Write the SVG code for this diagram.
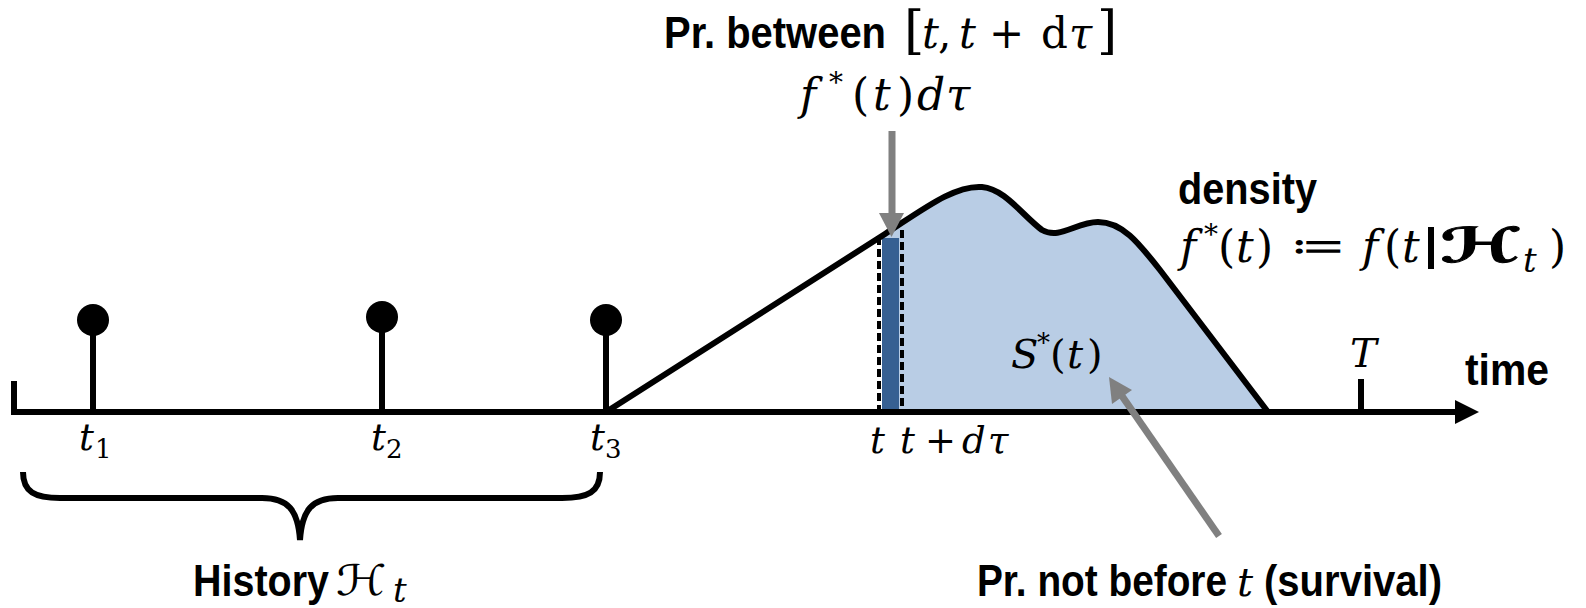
<svg xmlns="http://www.w3.org/2000/svg" width="1586" height="608" viewBox="0 0 1586 608">
<style>
.lbl{font-family:"Liberation Sans Narrow","Liberation Sans",Arial,sans-serif;font-weight:bold;font-size:45px;fill:#000}
.m{font-family:"DejaVu Serif","Liberation Serif",serif;fill:#000}
.i{font-style:italic}
.scr{font-family:"DejaVu Serif","DejaVu Sans",serif;font-style:italic;fill:#000}
.stk{stroke:#000;stroke-width:6;fill:none}
.dash{stroke:#000;stroke-width:4;stroke-dasharray:8 4;fill:none}
.gray{fill:#808080;stroke:none}
</style>
<rect width="1586" height="608" fill="#fff"/>
<g id="density">
  <path d="M882 412 L882 236 L885 234 C925 208 955 185 982 187 C1005 189 1022 215 1042 230 C1060 240 1076 222 1098 222 C1122 222 1138 242 1160 270 L1268 412 Z" fill="#B9CDE5"/>
  <rect x="882" y="238" width="17" height="174" fill="#376092"/>
  <line x1="879" y1="237" x2="879" y2="410" stroke="#fff" stroke-width="4"/>
  <line class="dash" x1="879" y1="237" x2="879" y2="410"/>
  <line class="dash" x1="902" y1="230" x2="902" y2="410"/>
  <path class="stk" d="M606 412 L885 234 C925 208 955 185 982 187 C1005 189 1022 215 1042 230 C1060 240 1076 222 1098 222 C1122 222 1138 242 1160 270 L1268 412" stroke-width="6.5" stroke-linejoin="round"/>
</g>
<g id="axis">
  <line class="stk" x1="12" y1="412" x2="1460" y2="412"/>
  <polygon points="1455,400 1479,412 1455,424" fill="#000"/>
  <line class="stk" x1="14" y1="381" x2="14" y2="415"/>
  <line class="stk" x1="1361" y1="379" x2="1361" y2="412"/>
  <text class="lbl" x="1465" y="385" textLength="84" lengthAdjust="spacingAndGlyphs">time</text>
  <text class="m i" x="1350" y="367" font-size="40">T</text>
</g>
<g id="event-t1">
  <line class="stk" x1="93" y1="320" x2="93" y2="412"/>
  <circle cx="93" cy="320" r="16"/>
  <text class="m" y="450" font-size="37"><tspan class="i" x="79">t</tspan><tspan font-size="26" x="95" y="458">1</tspan></text>
</g>
<g id="event-t2">
  <line class="stk" x1="382" y1="317" x2="382" y2="412"/>
  <circle cx="382" cy="317" r="16"/>
  <text class="m" y="450" font-size="37"><tspan class="i" x="371">t</tspan><tspan font-size="26" x="386" y="458">2</tspan></text>
</g>
<g id="event-t3">
  <line class="stk" x1="606" y1="320" x2="606" y2="412"/>
  <circle cx="606" cy="320" r="16"/>
  <text class="m" y="450" font-size="37"><tspan class="i" x="590">t</tspan><tspan font-size="26" x="605" y="458">3</tspan></text>
</g>
<g id="history">
  <path class="stk" d="M23 472 C23 492 35 498 60 498 L262 498 C288 498 298 510 300 540 C302 510 312 498 338 498 L562 498 C588 498 600 492 600 472"/>
  <text class="lbl" x="193" y="596" textLength="136" lengthAdjust="spacingAndGlyphs">History</text>
  <text class="scr" x="336" y="595" font-size="42" textLength="51" lengthAdjust="spacingAndGlyphs">ℋ</text>
  <text class="m i" x="393" y="602" font-size="34">t</text>
</g>
<g id="title">
  <text class="lbl" x="664" y="48" textLength="222" lengthAdjust="spacingAndGlyphs">Pr. between</text>
  <text class="m" y="48" font-size="42"><tspan x="904" font-size="52">[</tspan><tspan class="i" x="922">t</tspan><tspan x="938">,</tspan><tspan class="i" x="959">t</tspan><tspan x="989">+</tspan><tspan x="1041">d</tspan><tspan class="i" x="1069">τ</tspan><tspan x="1097" font-size="52">]</tspan></text>
  <text class="m" y="110" font-size="44"><tspan class="i" x="800">f</tspan><tspan font-size="28" x="829" y="92">*</tspan><tspan x="852" y="110">(</tspan><tspan class="i" x="873">t</tspan><tspan x="897">)</tspan><tspan class="i" x="917">d</tspan><tspan class="i" x="946">τ</tspan></text>
</g>
<g id="density-label">
  <text class="lbl" x="1178" y="204" textLength="139" lengthAdjust="spacingAndGlyphs">density</text>
  <text class="m" y="262" font-size="44"><tspan class="i" x="1180">f</tspan><tspan font-size="28" x="1204" y="244">*</tspan><tspan x="1218" y="262">(</tspan><tspan class="i" x="1236">t</tspan><tspan x="1256">)</tspan><tspan class="i" x="1362">f</tspan><tspan x="1384">(</tspan><tspan class="i" x="1402">t</tspan></text>
  <text class="m" x="1290" y="260" font-size="42" textLength="56" lengthAdjust="spacingAndGlyphs">≔</text>
  <rect x="1428" y="227" width="6" height="42" fill="#000"/>
  <text class="scr" x="1440" y="262" font-size="48" font-weight="bold" stroke="#000" stroke-width="1" textLength="80" lengthAdjust="spacingAndGlyphs">ℋ</text>
  <text class="m i" x="1523" y="272" font-size="34">t</text>
  <text class="m" x="1549" y="262" font-size="44">)</text>
</g>
<g id="survival-label">
  <text class="m" y="368" font-size="40"><tspan class="i" x="1011">S</tspan><tspan font-size="26" x="1037" y="352">*</tspan><tspan x="1050" y="368">(</tspan><tspan class="i" x="1067">t</tspan><tspan x="1087">)</tspan></text>
  <text class="lbl" x="977" y="596" textLength="250" lengthAdjust="spacingAndGlyphs">Pr. not before</text>
  <text class="m i" x="1237" y="596" font-size="40">t</text>
  <text class="lbl" x="1264" y="596" textLength="178" lengthAdjust="spacingAndGlyphs">(survival)</text>
</g>
<g id="axis-labels">
  <text class="m i" x="870" y="453" font-size="37">t</text>
  <text class="m" y="453" font-size="37"><tspan class="i" x="900">t</tspan><tspan x="925">+</tspan><tspan class="i" x="962">d</tspan><tspan class="i" x="988">τ</tspan></text>
</g>
<g id="connectors">
  <rect class="gray" x="888.5" y="131" width="7" height="85"/>
  <polygon class="gray" points="879,213 904,213 891.5,237"/>
  <line x1="1219" y1="536" x2="1122" y2="396" stroke="#808080" stroke-width="7"/>
  <polygon class="gray" points="1109,377 1132,390 1112,404"/>
</g>
</svg>
